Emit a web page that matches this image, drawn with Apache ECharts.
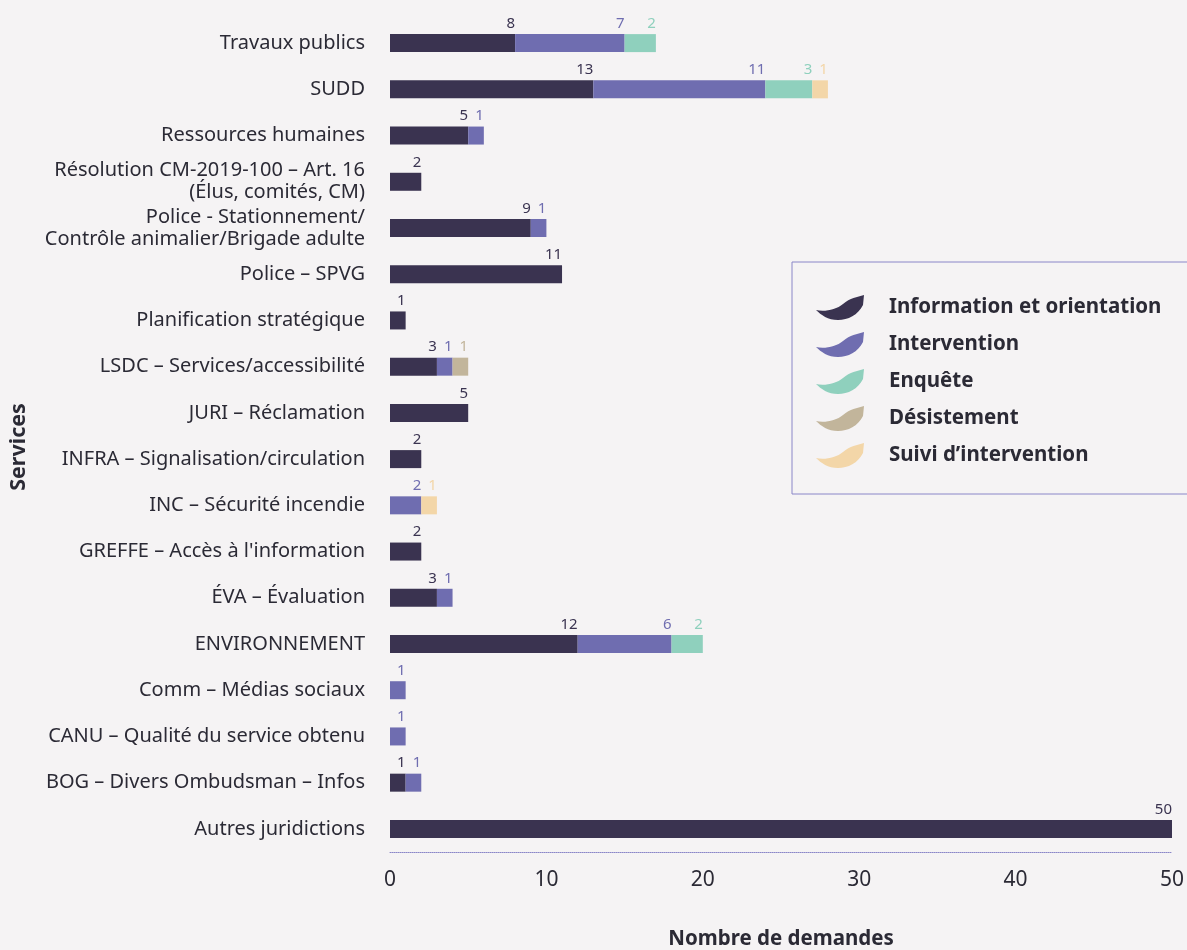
<!DOCTYPE html>
<html>
<head>
<meta charset="utf-8">
<script src="https://cdn.jsdelivr.net/npm/echarts@6/dist/echarts.min.js"></script>
<style>
  html, body { margin: 0; padding: 0; background: #f5f3f4; }
  #chart { width: 1187px; height: 950px; }
</style>
</head>
<body>
<div id="chart"></div>
<script>
// Services, listed top to bottom
const services = [
  'Travaux publics',
  'SUDD',
  'Ressources humaines',
  'Résolution CM-2019-100 – Art. 16\n(Élus, comités, CM)',
  'Police - Stationnement/\nContrôle animalier/Brigade adulte',
  'Police – SPVG',
  'Planification stratégique',
  'LSDC – Services/accessibilité',
  'JURI – Réclamation',
  'INFRA – Signalisation/circulation',
  'INC – Sécurité incendie',
  "GREFFE – Accès à l'information",
  'ÉVA – Évaluation',
  'ENVIRONNEMENT',
  'Comm – Médias sociaux',
  'CANU – Qualité du service obtenu',
  'BOG – Divers Ombudsman – Infos',
  'Autres juridictions'
];

// Number of requests per type, same order as services
const informationOrientation = [8, 13, 5, 2, 9, 11, 1, 3, 5, 2, 0, 2, 3, 12, 0, 0, 1, 50];
const intervention           = [7, 11, 1, 0, 1, 0, 0, 1, 0, 0, 2, 0, 1, 6, 1, 1, 1, 0];
const enquete                = [2, 3, 0, 0, 0, 0, 0, 0, 0, 0, 0, 0, 0, 2, 0, 0, 0, 0];
const desistement            = [0, 0, 0, 0, 0, 0, 0, 1, 0, 0, 0, 0, 0, 0, 0, 0, 0, 0];
const suiviIntervention      = [0, 1, 0, 0, 0, 0, 0, 0, 0, 0, 1, 0, 0, 0, 0, 0, 0, 0];

const xTicks = { min: 0, max: 50, interval: 10 };

const seriesDefs = [
  { name: 'Information et orientation', data: informationOrientation, color: '#3a3350' },
  { name: 'Intervention', data: intervention, color: '#6f6db0' },
  { name: 'Enquête', data: enquete, color: '#8fd0bd' },
  { name: 'Désistement', data: desistement, color: '#c2b59b' },
  { name: 'Suivi d’intervention', data: suiviIntervention, color: '#f3d6a8' }
];

const FONT = '"Noto Sans", "Open Sans", sans-serif';
const TEXT = '#2b2a35';
// brush-stroke swoosh used as legend marker
const swoosh = 'path://M0,15 C8,17 20,15 27,9 C34,3 41,2 48,0 L47,10 C42,20 32,25 22,25 C12,25 5,20 0,15 Z';

const chart = echarts.init(document.getElementById('chart'), null, { renderer: 'canvas' });

chart.setOption({
  backgroundColor: '#f5f3f4',
  animation: false,
  textStyle: { fontFamily: FONT },
  grid: { left: 390, right: 15, top: 20, bottom: 98, containLabel: false, outerBoundsMode: 'none' },
  legend: {
    orient: 'vertical',
    left: 792,
    top: 262,
    padding: [33, 60, 26, 24],
    itemWidth: 48,
    itemHeight: 25,
    itemGap: 12,
    icon: swoosh,
    borderColor: '#8a86c8',
    borderWidth: 1,
    borderRadius: 0,
    textStyle: { fontFamily: FONT, fontSize: 20.5, fontWeight: 'bold', color: TEXT, padding: [0, 0, 0, 20] },
    data: seriesDefs.map(s => s.name)
  },
  xAxis: {
    type: 'value',
    min: xTicks.min,
    max: xTicks.max,
    interval: xTicks.interval,
    name: 'Nombre de demandes',
    nameLocation: 'middle',
    nameGap: 77,
    nameTextStyle: { fontFamily: FONT, fontSize: 20.5, fontWeight: 'bold', color: TEXT },
    axisLine: { show: true, lineStyle: { color: '#8a86c8', type: 'dotted', width: 1 } },
    axisTick: { show: false },
    splitLine: { show: false },
    axisLabel: { fontFamily: FONT, fontSize: 21, color: TEXT, margin: 18 }
  },
  yAxis: {
    type: 'category',
    data: services,
    inverse: true,
    name: 'Services',
    nameLocation: 'middle',
    nameRotate: 90,
    nameGap: 360,
    nameTextStyle: { fontFamily: FONT, fontSize: 21.5, fontWeight: 'bold', color: TEXT, padding: [0, 22, 0, 0] },
    axisLine: { show: false },
    axisTick: { show: false },
    splitLine: { show: false },
    axisLabel: { fontFamily: FONT, fontSize: 20, color: TEXT, margin: 25, lineHeight: 22 }
  },
  series: seriesDefs.map(s => ({
    name: s.name,
    type: 'bar',
    stack: 'total',
    barWidth: 18,
    data: s.data,
    itemStyle: { color: s.color },
    label: {
      show: true,
      position: ['100%', -3],
      align: 'right',
      verticalAlign: 'bottom',
      fontFamily: FONT,
      fontSize: 15,
      color: s.color,
      formatter: p => (p.value > 0 ? String(p.value) : '')
    }
  }))
});
</script>
</body>
</html>
